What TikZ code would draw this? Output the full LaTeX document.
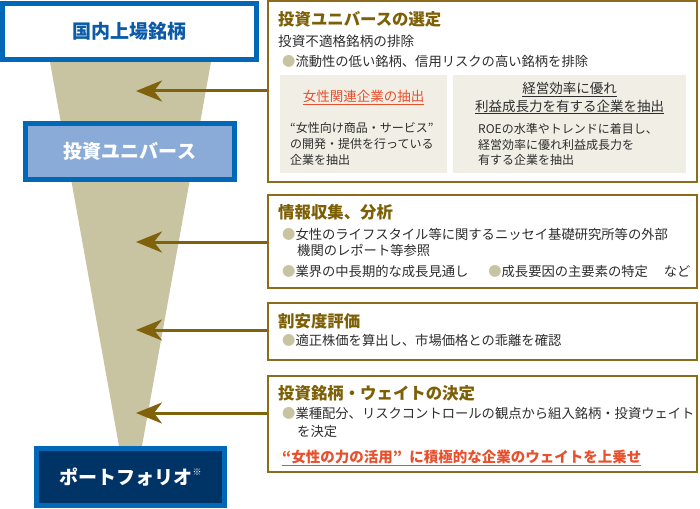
\documentclass[tikz,border=0pt]{standalone}
\usepackage{fontspec}
\setmainfont{Noto Sans CJK JP}
\usetikzlibrary{arrows.meta}
\definecolor{tanfill}{RGB}{200,195,160}
\definecolor{brownline}{RGB}{140,108,28}
\definecolor{browntext}{RGB}{125,95,5}
\definecolor{arrowbrown}{RGB}{128,98,10}
\definecolor{bluebord}{RGB}{0,104,183}
\definecolor{bluetext}{RGB}{10,90,168}
\definecolor{lightblue}{RGB}{138,170,216}
\definecolor{navy}{RGB}{0,51,102}
\definecolor{accent}{RGB}{232,80,45}
\definecolor{panel}{RGB}{240,238,229}
\definecolor{bodytext}{RGB}{45,45,45}
\newcommand{\bul}{{\color{tanfill}●}}
\tikzset{
  stagebox/.style={draw=brownline, line width=1.6pt, fill=white, minimum width=429pt, inner sep=0pt},
  levelbox/.style={draw=bluebord, line width=5pt, inner sep=0pt, font=\fontsize{19}{20}\selectfont\bfseries},
  panelbox/.style={fill=panel, inner sep=0pt},
  headtxt/.style={anchor=base west, inner sep=0pt, text=browntext, font=\fontsize{16.4}{18}\selectfont\bfseries},
  bodytxt/.style={anchor=base west, inner sep=0pt, text=bodytext, font=\fontsize{13.3}{16}\selectfont},
  smalltxt/.style={anchor=base west, inner sep=0pt, text=bodytext, font=\fontsize{12}{14}\selectfont},
  feed/.style={arrowbrown, line width=3pt, -{Stealth[length=26pt,width=21pt,inset=8pt]}},
}
\begin{document}
\begin{tikzpicture}[x=1pt, y=-1pt]
    \useasboundingbox (0,0) rectangle (700,508);
    % funnel
    \fill[tanfill] (50,62) -- (211,62) -- (142,446) -- (119,446) -- cycle;
    \coordinate (tipA) at (136,91);
    \coordinate (tipB) at (136,242);
    \coordinate (tipC) at (136,330);
    \coordinate (tipD) at (136,413);
    % levels
    \node[levelbox, fill=white, text=bluetext, minimum width=254pt, minimum height=56pt] (listed) at (129.5,31.5) {国内上場銘柄};
    \node[levelbox, fill=lightblue, text=white, minimum width=209pt, minimum height=56pt] (universe) at (130,151.5) {投資ユニバース};
    \node[levelbox, fill=navy, text=white, minimum width=188pt, minimum height=57pt] (portfolio) at (130.5,477) {ポートフォリオ\raisebox{0.45em}{\fontsize{9}{9}\selectfont ※}};
    % stage boxes
    \node[stagebox, minimum height=181pt] (select) at (482.5,91.5) {};
    \node[stagebox, minimum height=93pt] (research) at (482.5,241.5) {};
    \node[stagebox, minimum height=57pt] (value) at (482.5,331.5) {};
    \node[stagebox, minimum height=96pt] (weight) at (482.5,424) {};
    % arrows
    \draw[feed] (select.west |- tipA) -- (tipA);
    \draw[feed] (research.west |- tipB) -- (tipB);
    \draw[feed] (value.west |- tipC) -- (tipC);
    \draw[feed] (weight.west |- tipD) -- (tipD);
    % stage 1
    \node[headtxt] (selectT) at (278,26) {投資ユニバースの選定};
    \node[bodytxt, font=\fontsize{13.6}{16}\selectfont] (selectS) at (278,47) {投資不適格銘柄の排除};
    \node[bodytxt] (selectL) at (282,67) {\bul 流動性の低い銘柄、信用リスクの高い銘柄を排除};
    \node[panelbox, minimum width=167pt, minimum height=98pt] (womenP) at (363.5,124) {};
    \node[panelbox, minimum width=233pt, minimum height=98pt] (roeP) at (569.5,124) {};
    \node[anchor=base, inner sep=0pt, text=accent, font=\fontsize{13.5}{16}\selectfont] (womenH) at (womenP.center |- 0,102) {\underline{女性関連企業の抽出}};
    \node[smalltxt] (women1) at (290,132) {“女性向け商品・サービス”};
    \node[smalltxt] (women2) at (290,148) {の開発・提供を行っている};
    \node[smalltxt] (women3) at (290,164) {企業を抽出};
    \node[anchor=base, inner sep=0pt, text=bodytext, font=\fontsize{13.5}{16}\selectfont] (roeH1) at (roeP.center |- 0,94) {\underline{経営効率に優れ}};
    \node[anchor=base, inner sep=0pt, text=bodytext, font=\fontsize{13.5}{16}\selectfont] (roeH2) at (roeP.center |- 0,111) {\underline{利益成長力を有する企業を抽出}};
    \node[smalltxt] (roe1) at (478,133) {ROEの水準やトレンドに着目し、};
    \node[smalltxt] (roe2) at (478,149) {経営効率に優れ利益成長力を};
    \node[smalltxt] (roe3) at (478,164) {有する企業を抽出};
    % stage 2
    \node[headtxt] (researchT) at (278,218) {情報収集、分析};
    \node[bodytxt] (research1) at (282,239) {\bul 女性のライフスタイル等に関するニッセイ基礎研究所等の外部};
    \node[bodytxt] (research2) at (297,255) {機関のレポート等参照};
    \node[bodytxt] (research3) at (282,276) {\bul 業界の中長期的な成長見通し\hspace{1.5em}\bul 成長要因の主要素の特定\hspace{1.2em}など};
    % stage 3
    \node[headtxt] (valueT) at (278,327) {割安度評価};
    \node[bodytxt] (value1) at (282,345) {\bul 適正株価を算出し、市場価格との乖離を確認};
    % stage 4
    \node[headtxt] (weightT) at (278,399) {投資銘柄・ウェイトの決定};
    \node[bodytxt] (weight1) at (282,418) {\bul 業種配分、リスクコントロールの観点から組入銘柄・投資ウェイト};
    \node[bodytxt] (weight2) at (297,436) {を決定};
    \node[anchor=base west, inner sep=0pt, text=accent, font=\fontsize{14.5}{16}\selectfont\bfseries] (weight3) at (282,462) {\underline{“女性の力の活用”\hspace{0.5em}に積極的な企業のウェイトを上乗せ}};
\end{tikzpicture}
\end{document}
